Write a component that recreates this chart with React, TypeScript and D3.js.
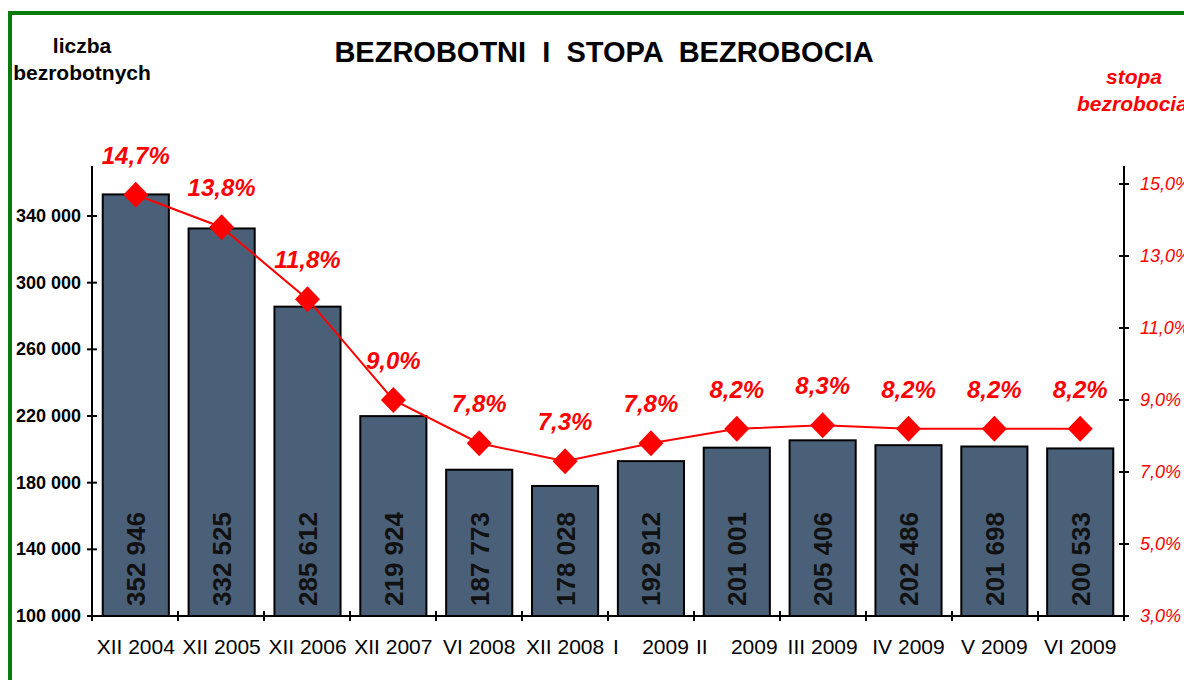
import React from "react";
import * as d3 from "d3";

const categories = ["XII 2004", "XII 2005", "XII 2006", "XII 2007", "VI 2008", "XII 2008", "I    2009", "II    2009", "III 2009", "IV 2009", "V 2009", "VI 2009"];
const unemployed = [352946, 332525, 285612, 219924, 187773, 178028, 192912, 201001, 205406, 202486, 201698, 200533];
const rate = [14.7, 13.8, 11.8, 9.0, 7.8, 7.3, 7.8, 8.2, 8.3, 8.2, 8.2, 8.2];
const leftTicks = [100000, 140000, 180000, 220000, 260000, 300000, 340000];
const rightTicks = [3, 5, 7, 9, 11, 13, 15];

const W = 1184, H = 680;
const left = 92, right = 1124, top = 166, bottom = 616;

export default function App() {
  const x = d3.scaleBand<string>().domain(categories).range([left, right]).paddingInner(0.23).paddingOuter(0.125);
  const xTick = d3.scaleLinear().domain([0, categories.length]).range([left, right]);
  const yL = d3.scaleLinear().domain([100000, 370000]).range([bottom, top]);
  const yR = d3.scaleLinear().domain([3, 15.5]).range([bottom, top]);
  const fmtNum = (v: number) => d3.format(",")(v).replace(/,/g, " ");
  const fmtPct = (v: number) => v.toFixed(1).replace(".", ",") + "%";
  const cx = (i: number) => (x(categories[i]) as number) + x.bandwidth() / 2;
  const line = d3.line<number>().x((_, i) => cx(i)).y((d) => yR(d));
  const ff = "Arial, 'Liberation Sans', sans-serif";

  return (
    <svg width={W} height={H} style={{ position: "absolute", left: 0, top: 0, background: "#fff" }} fontFamily={ff}>
      <rect x={10} y={13} width={1300} height={800} fill="none" stroke="#0a7a0a" strokeWidth={4} />
      <text x={604} y={62} textAnchor="middle" fontSize={29} fontWeight="bold" style={{ whiteSpace: "pre" }}>{"BEZROBOTNI  I  STOPA  BEZROBOCIA"}</text>
      <text x={82} y={53} textAnchor="middle" fontSize={21} fontWeight="bold">liczba</text>
      <text x={82} y={80} textAnchor="middle" fontSize={21} fontWeight="bold">bezrobotnych</text>
      <text x={1134} y={84} textAnchor="middle" fontSize={21} fontWeight="bold" fontStyle="italic" fill="#ff0000">stopa</text>
      <text x={1077} y={111} fontSize={21} fontWeight="bold" fontStyle="italic" fill="#ff0000">bezrobocia</text>

      {unemployed.map((v, i) => (
        <rect key={i} x={x(categories[i])} y={yL(v)} width={x.bandwidth()} height={bottom - yL(v)} fill="#4a6079" stroke="#000" strokeWidth={2} />
      ))}
      {unemployed.map((v, i) => (
        <text key={i} transform={`translate(${cx(i) + 9.5},${bottom - 10}) rotate(-90)`} fontSize={26} fontWeight="bold" fill="#111">{fmtNum(v)}</text>
      ))}

      <line x1={left} x2={left} y1={top} y2={bottom} stroke="#000" strokeWidth={2} />
      <line x1={right} x2={right} y1={top} y2={bottom} stroke="#000" strokeWidth={2} />
      <line x1={left} x2={right} y1={bottom} y2={bottom} stroke="#000" strokeWidth={2} />
      {leftTicks.map((t) => (
        <g key={t}>
          <line x1={left - 5} x2={left + 5} y1={yL(t)} y2={yL(t)} stroke="#000" strokeWidth={2} />
          <text x={81} y={yL(t) + 6} textAnchor="end" fontSize={18} fontWeight="bold">{fmtNum(t)}</text>
        </g>
      ))}
      {rightTicks.map((t) => (
        <g key={t}>
          <line x1={right - 5} x2={right + 5} y1={yR(t)} y2={yR(t)} stroke="#000" strokeWidth={2} />
          <text x={1140} y={yR(t) + 6} fontSize={18} fontStyle="italic" fill="#ff0000">{fmtPct(t)}</text>
        </g>
      ))}
      {d3.range(categories.length + 1).map((k) => (
        <line key={k} x1={xTick(k)} x2={xTick(k)} y1={bottom - 5} y2={bottom + 5} stroke="#000" strokeWidth={2} />
      ))}
      {categories.map((c, i) => (
        <text key={c} x={cx(i)} y={654} textAnchor="middle" fontSize={21} style={{ whiteSpace: "pre" }}>{c}</text>
      ))}

      <path d={line(rate) || ""} fill="none" stroke="#ff0000" strokeWidth={2} />
      {rate.map((r, i) => (
        <path key={i} d={`M${cx(i)},${yR(r) - 13}L${cx(i) + 12.5},${yR(r)}L${cx(i)},${yR(r) + 13}L${cx(i) - 12.5},${yR(r)}Z`} fill="#ff0000" />
      ))}
      {rate.map((r, i) => (
        <text key={i} x={cx(i)} y={yR(r) - 31} textAnchor="middle" fontSize={24} fontWeight="bold" fontStyle="italic" fill="#ff0000">{fmtPct(r)}</text>
      ))}
    </svg>
  );
}
